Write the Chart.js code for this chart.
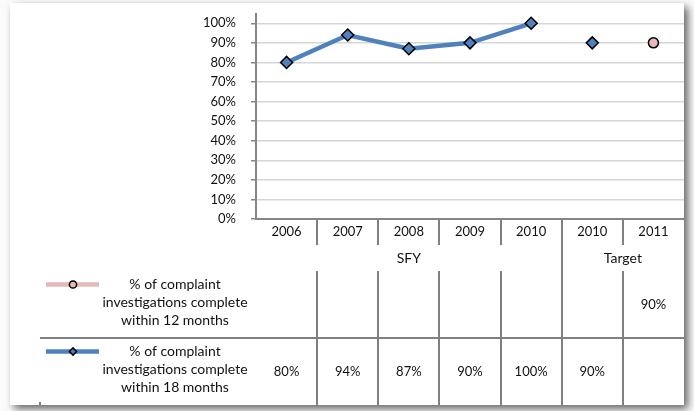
<!DOCTYPE html>
<html>
<head>
<meta charset="utf-8">
<script src="https://cdn.jsdelivr.net/npm/chart.js@4.4.0/dist/chart.umd.min.js"></script>
<style>
  html, body { margin: 0; padding: 0; background: #fff; }
  canvas { display: block; }
</style>
</head>
<body>
<canvas id="chart" width="694" height="411"></canvas>
<script>
// categories and their header groups
const years = ["2006", "2007", "2008", "2009", "2010", "2010", "2011"];
const groups = ["SFY", "SFY", "SFY", "SFY", "SFY", "Target", "Target"];

// series values (fractions)
const within12 = [null, null, null, null, null, null, 0.90];
const within18 = [0.80, 0.94, 0.87, 0.90, 1.00, 0.90, null];

// series names, as wrapped in the table
const label12 = ["% of complaint", "investigations complete", "within 12 months"];
const label18 = ["% of complaint", "investigations complete", "within 18 months"];

// y axis ticks
const yTicks = [0, 0.1, 0.2, 0.3, 0.4, 0.5, 0.6, 0.7, 0.8, 0.9, 1.0];

const BLUE = "#4F81BD";
const PINK = "#E6B9B8";
const GRID = "#D6D6D6";
const AXIS = "#868686";
const TABLE_LINE = "#808080";
const TEXT = "#111";
const FONT = "Lato, 'Open Sans', sans-serif";

Chart.defaults.font.family = FONT;
Chart.defaults.font.size = 13;
Chart.defaults.color = TEXT;

const pct = v => Math.round(v * 100) + "%";

// white card with a soft drop shadow
const cardPlugin = {
  id: "card",
  beforeDraw(chart) {
    const ctx = chart.ctx;
    ctx.save();
    ctx.fillStyle = "#fbfbfb";
    ctx.fillRect(0, 0, chart.width, chart.height);
    ctx.shadowColor = "rgba(0,0,0,0.6)";
    ctx.shadowBlur = 8;
    ctx.shadowOffsetX = 4;
    ctx.shadowOffsetY = 4;
    ctx.fillStyle = "#fff";
    ctx.fillRect(10, 3, 674, 402);
    ctx.restore();
  }
};

// data table under the plot: group header, legend keys and values
const tablePlugin = {
  id: "dataTable",
  afterDraw(chart) {
    const ctx = chart.ctx;
    const x = chart.scales.x;
    const n = years.length;
    const colW = (x.right - x.left) / n;
    const top = x.top;
    const bottom = 405;

    ctx.save();
    ctx.strokeStyle = TABLE_LINE;
    ctx.lineWidth = 2;
    ctx.beginPath();
    for (let i = 1; i < n; i++) {
      const xe = Math.round(x.left + i * colW);
      if (groups[i] !== groups[i - 1]) {
        ctx.moveTo(xe, top); ctx.lineTo(xe, bottom);
      } else {
        ctx.moveTo(xe, top); ctx.lineTo(xe, 245);
        ctx.moveTo(xe, 271); ctx.lineTo(xe, bottom);
      }
    }
    ctx.moveTo(40, 338); ctx.lineTo(x.right, 338);
    ctx.moveTo(40, 402); ctx.lineTo(40, bottom);
    ctx.stroke();

    ctx.fillStyle = TEXT;
    ctx.font = "14px " + FONT;
    ctx.textAlign = "center";
    ctx.textBaseline = "middle";

    // group headers
    let start = 0;
    for (let i = 1; i <= n; i++) {
      if (i === n || groups[i] !== groups[start]) {
        const cx = (x.getPixelForValue(start) + x.getPixelForValue(i - 1)) / 2;
        ctx.fillText(groups[start], cx, 258);
        start = i;
      }
    }

    // rows: legend key, wrapped name, values
    const rows = [
      { ds: 1, lines: label12, data: within12, cy: 302.5 },
      { ds: 0, lines: label18, data: within18, cy: 369.5 }
    ];
    rows.forEach(r => {
      const d = chart.data.datasets[r.ds];
      const ky = r.cy - 18;
      ctx.save();
      ctx.strokeStyle = d.borderColor;
      ctx.lineWidth = 4.5;
      ctx.beginPath();
      ctx.moveTo(46, ky); ctx.lineTo(99, ky);
      ctx.stroke();
      ctx.fillStyle = d.pointBackgroundColor;
      ctx.strokeStyle = d.pointBorderColor;
      ctx.lineWidth = 1.5;
      Chart.helpers.drawPoint(ctx, { pointStyle: d.pointStyle, radius: 3.6, rotation: 0, borderWidth: 1.5 }, 73, ky);
      ctx.restore();

      r.lines.forEach((t, k) => ctx.fillText(t, 175, r.cy + (k - 1) * 18));
      ctx.font = "13px " + FONT;
      r.data.forEach((v, i) => {
        if (v !== null) ctx.fillText(pct(v), x.getPixelForValue(i), r.cy + 2.5);
      });
      ctx.font = "14px " + FONT;
    });
    ctx.restore();
  }
};

new Chart(document.getElementById("chart"), {
  type: "line",
  data: {
    labels: years,
    datasets: [
      {
        label: label18.join(" "),
        data: within18,
        borderColor: BLUE,
        backgroundColor: BLUE,
        borderWidth: 4.5,
        tension: 0,
        pointStyle: "rectRot",
        pointRadius: 6,
        pointBackgroundColor: BLUE,
        pointBorderColor: "#000",
        pointBorderWidth: 1.5,
        // no connecting line across the SFY / Target split
        segment: {
          borderColor: c => groups[c.p0DataIndex] !== groups[c.p1DataIndex] ? "rgba(0,0,0,0)" : BLUE
        }
      },
      {
        label: label12.join(" "),
        data: within12,
        borderColor: PINK,
        backgroundColor: PINK,
        borderWidth: 4.5,
        pointStyle: "circle",
        pointRadius: 5,
        pointBackgroundColor: PINK,
        pointBorderColor: "#000",
        pointBorderWidth: 1.5
      }
    ]
  },
  options: {
    responsive: false,
    animation: false,
    layout: { padding: { top: 13.5, right: 10, left: 0, bottom: 0 } },
    plugins: {
      legend: { display: false },
      tooltip: { enabled: false }
    },
    scales: {
      x: {
        offset: true,
        grid: { display: false, drawTicks: false },
        border: { display: true, color: AXIS, width: 2 },
        ticks: { padding: 5, color: TEXT, maxRotation: 0, autoSkip: false },
        afterFit: s => { s.height = 192; }
      },
      y: {
        min: 0,
        max: 1.05,
        afterBuildTicks: s => { s.ticks = yTicks.map(v => ({ value: v })); },
        ticks: { callback: v => pct(v), padding: 15, color: TEXT },
        grid: { color: GRID, lineWidth: 1.5, tickLength: 5, tickColor: AXIS, tickWidth: 1.5 },
        border: { color: AXIS, width: 2 },
        afterFit: s => { s.width = 256; s.paddingTop = 0; s.paddingBottom = 0; }
      }
    }
  },
  plugins: [cardPlugin, tablePlugin]
});
</script>
</body>
</html>
